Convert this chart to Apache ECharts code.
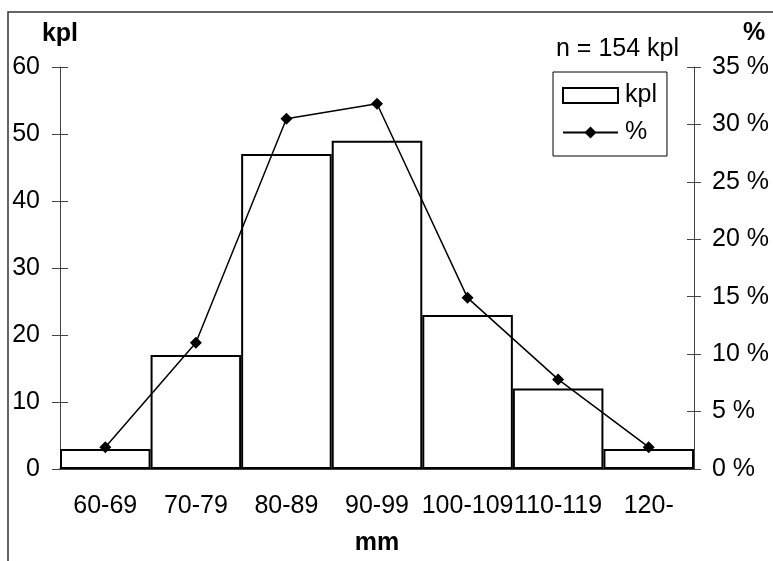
<!DOCTYPE html>
<html>
<head>
<meta charset="utf-8">
<script src="https://cdn.jsdelivr.net/npm/echarts@6/dist/echarts.min.js"></script>
<style>
  html, body { margin: 0; padding: 0; background: #fff; }
  #main { width: 773px; height: 561px; }
</style>
</head>
<body>
<div id="main"></div>
<script>
// size classes (mm)
var categories = ['60-69', '70-79', '80-89', '90-99', '100-109', '110-119', '120-'];
// number of specimens per class
var counts = [3, 17, 47, 49, 23, 12, 3];
// share of all specimens, %
var percents = [1.9, 11.0, 30.5, 31.8, 14.9, 7.8, 1.9];

var font = 'Liberation Sans, Arial, sans-serif';
var fs = 25;

var chart = echarts.init(document.getElementById('main'));
var option = {
    animation: false,
    textStyle: { fontFamily: font, color: '#000' },
    graphic: [{
        type: 'rect',
        shape: { x: 8, y: 12, width: 800, height: 600 },
        style: { fill: 'none', stroke: '#333', lineWidth: 1.5 },
        z: -1
    }, {
        type: 'text',
        left: 556, top: 37,
        style: { text: 'n = 154 kpl', font: fs + 'px ' + font, fill: '#000' }
    }, {
        type: 'text',
        left: 743, top: 21,
        style: { text: '%', font: 'bold ' + fs + 'px ' + font, fill: '#000' }
    }],
    legend: {
        orient: 'vertical',
        left: 553, top: 72,
        padding: [11, 10, 11, 9],
        itemGap: 12,
        itemWidth: 55, itemHeight: 15,
        borderColor: '#000', borderWidth: 1,
        textStyle: { fontSize: fs, fontFamily: font, color: '#000', padding: [0, 0, 0, 2] },
        data: [{ name: 'kpl', icon: 'rect' }, { name: '%' }]
    },
    grid: { left: 60, right: 79, top: 67, bottom: 89 },
    xAxis: {
        type: 'category',
        data: categories,
        name: 'mm',
        nameLocation: 'middle',
        nameGap: 62,
        nameTextStyle: { fontSize: fs, fontWeight: 'bold', fontFamily: font, color: '#000' },
        axisLine: { lineStyle: { color: '#000', width: 1.5 } },
        axisTick: { length: 8, lineStyle: { color: '#444' } },
        axisLabel: { interval: 0, margin: 25, fontSize: fs, fontFamily: font, color: '#000', hideOverlap: false }
    },
    yAxis: [{
        type: 'value', position: 'left',
        min: 0, max: 60, interval: 10,
        name: 'kpl',
        nameGap: 20,
        nameTextStyle: { fontSize: fs, fontWeight: 'bold', fontFamily: font, color: '#000' },
        splitLine: { show: false },
        axisLine: { show: true, lineStyle: { color: '#444' } },
        axisTick: { show: true, length: 8, lineStyle: { color: '#444' } },
        axisLabel: { margin: 20, fontSize: fs, fontFamily: font, color: '#000' }
    }, {
        type: 'value', position: 'right',
        min: 0, max: 35, interval: 5,
        splitLine: { show: false },
        axisLine: { show: true, lineStyle: { color: '#444' } },
        axisTick: { show: true, length: 7, lineStyle: { color: '#444' } },
        axisLabel: { margin: 18, fontSize: fs, fontFamily: font, color: '#000', formatter: '{value} %' }
    }, {
        // inner halves of the crossing ticks
        type: 'value', position: 'left',
        min: 0, max: 60, interval: 10,
        splitLine: { show: false },
        axisLine: { show: false },
        axisTick: { show: true, inside: true, length: 8, lineStyle: { color: '#444' } },
        axisLabel: { show: false }
    }, {
        type: 'value', position: 'right',
        min: 0, max: 35, interval: 5,
        splitLine: { show: false },
        axisLine: { show: false },
        axisTick: { show: true, inside: true, length: 7, lineStyle: { color: '#444' } },
        axisLabel: { show: false }
    }],
    series: [{
        name: 'kpl',
        type: 'bar',
        yAxisIndex: 0,
        data: counts,
        barCategoryGap: '0%',
        itemStyle: { color: '#fff', borderColor: '#000', borderWidth: 2 }
    }, {
        name: '%',
        type: 'line',
        yAxisIndex: 1,
        data: percents,
        symbol: 'diamond',
        symbolSize: 12,
        lineStyle: { color: '#000', width: 1.5 },
        itemStyle: { color: '#000' },
        z: 3
    }]
};
chart.setOption(option);
</script>
</body>
</html>
